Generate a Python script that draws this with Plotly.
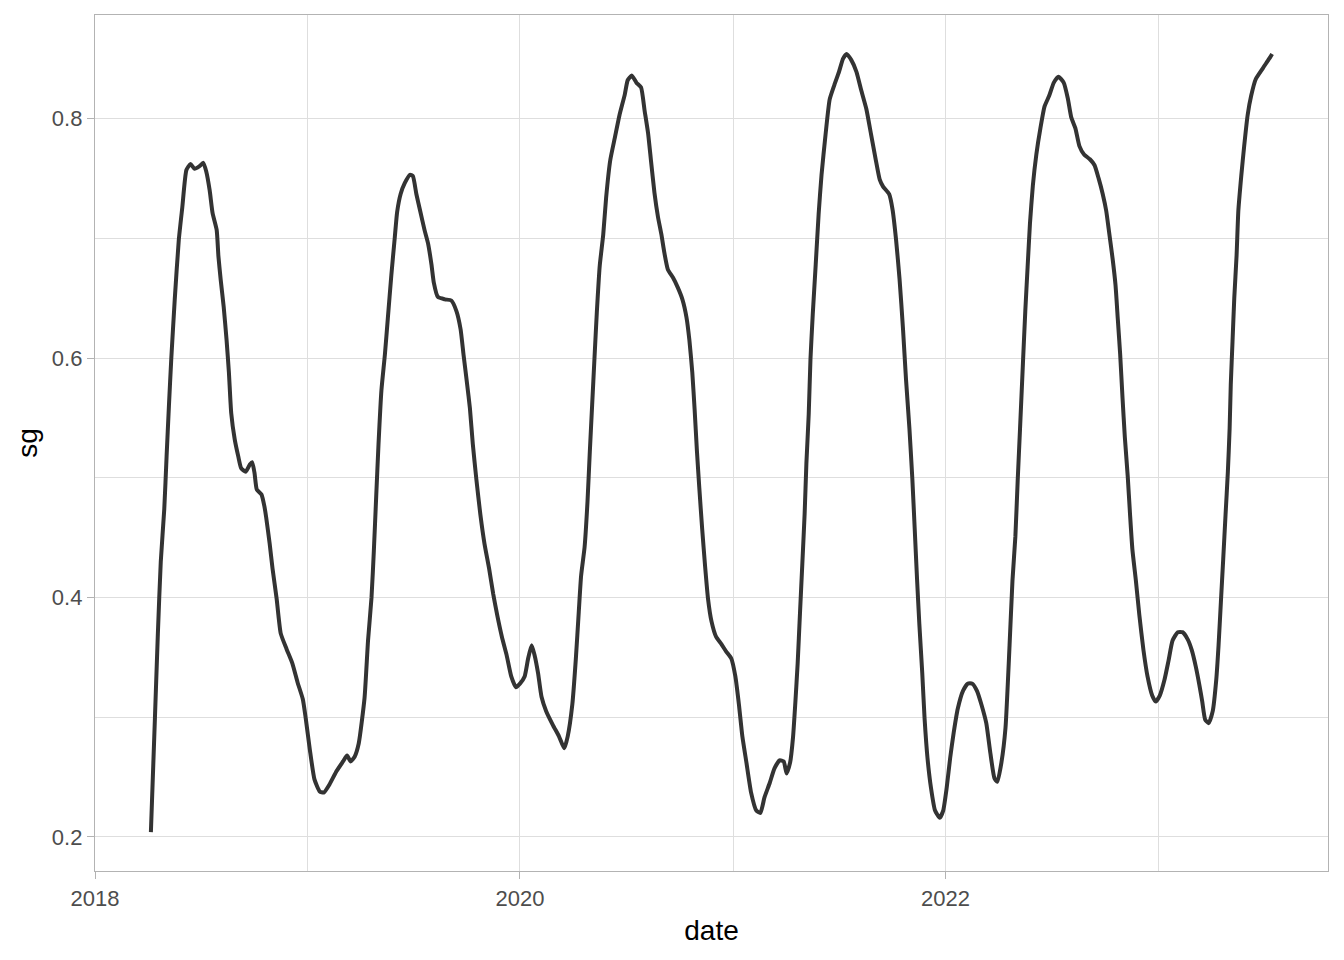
import plotly.graph_objects as go

dates = [
    "2018-04-07", "2018-04-14", "2018-04-19", "2018-04-24", "2018-04-30", "2018-05-04", "2018-05-08",
    "2018-05-12", "2018-05-18", "2018-05-25", "2018-05-31", "2018-06-07", "2018-06-14", "2018-06-21",
    "2018-06-29", "2018-07-06", "2018-07-11", "2018-07-17", "2018-07-22", "2018-07-29", "2018-08-01",
    "2018-08-05", "2018-08-10", "2018-08-15", "2018-08-19", "2018-08-23", "2018-08-29", "2018-09-04",
    "2018-09-09", "2018-09-17", "2018-09-24", "2018-09-28", "2018-10-02", "2018-10-06", "2018-10-14",
    "2018-10-19", "2018-10-22", "2018-10-28", "2018-11-02", "2018-11-09", "2018-11-16", "2018-11-26",
    "2018-12-06", "2018-12-15", "2018-12-24", "2018-12-29", "2019-01-05", "2019-01-13", "2019-01-22",
    "2019-01-29", "2019-02-08", "2019-02-20", "2019-03-03", "2019-03-10", "2019-03-16", "2019-03-23",
    "2019-03-30", "2019-04-09", "2019-04-15", "2019-04-21", "2019-04-25", "2019-04-29", "2019-05-03",
    "2019-05-08", "2019-05-14", "2019-05-19", "2019-05-25", "2019-05-31", "2019-06-04", "2019-06-10",
    "2019-06-17", "2019-06-26", "2019-07-01", "2019-07-07", "2019-07-14", "2019-07-21", "2019-07-27",
    "2019-08-02", "2019-08-06", "2019-08-13", "2019-08-25", "2019-09-05", "2019-09-14", "2019-09-21",
    "2019-09-26", "2019-10-02", "2019-10-07", "2019-10-12", "2019-10-18", "2019-10-25", "2019-11-01",
    "2019-11-09", "2019-11-16", "2019-11-23", "2019-12-01", "2019-12-09", "2019-12-17", "2019-12-25",
    "2020-01-01", "2020-01-09", "2020-01-15", "2020-01-21", "2020-01-26", "2020-02-01", "2020-02-07",
    "2020-02-15", "2020-02-27", "2020-03-08", "2020-03-17", "2020-03-23", "2020-03-31", "2020-04-06",
    "2020-04-11", "2020-04-15", "2020-04-21", "2020-04-26", "2020-04-30", "2020-05-04", "2020-05-08",
    "2020-05-12", "2020-05-17", "2020-05-23", "2020-05-28", "2020-06-04", "2020-06-12", "2020-06-20",
    "2020-06-29", "2020-07-04", "2020-07-11", "2020-07-19", "2020-07-27", "2020-08-02", "2020-08-08",
    "2020-08-13", "2020-08-19", "2020-08-25", "2020-08-31", "2020-09-05", "2020-09-11", "2020-09-20",
    "2020-09-28", "2020-10-06", "2020-10-13", "2020-10-18", "2020-10-23", "2020-10-27", "2020-10-31",
    "2020-11-04", "2020-11-09", "2020-11-14", "2020-11-19", "2020-11-25", "2020-12-03", "2020-12-12",
    "2020-12-20", "2020-12-29", "2021-01-05", "2021-01-11", "2021-01-17", "2021-01-24", "2021-02-01",
    "2021-02-10", "2021-02-17", "2021-02-24", "2021-03-05", "2021-03-13", "2021-03-22", "2021-03-29",
    "2021-04-03", "2021-04-09", "2021-04-14", "2021-04-18", "2021-04-22", "2021-04-26", "2021-04-30",
    "2021-05-04", "2021-05-07", "2021-05-11", "2021-05-14", "2021-05-18", "2021-05-23", "2021-05-28",
    "2021-06-02", "2021-06-09", "2021-06-16", "2021-06-24", "2021-07-02", "2021-07-09", "2021-07-15",
    "2021-07-23", "2021-08-01", "2021-08-09", "2021-08-18", "2021-08-26", "2021-09-03", "2021-09-10",
    "2021-09-16", "2021-09-26", "2021-10-02", "2021-10-08", "2021-10-14", "2021-10-20", "2021-10-25",
    "2021-10-31", "2021-11-05", "2021-11-09", "2021-11-13", "2021-11-17", "2021-11-22", "2021-11-26",
    "2021-12-01", "2021-12-07", "2021-12-14", "2021-12-22", "2021-12-28", "2022-01-03", "2022-01-09",
    "2022-01-15", "2022-01-22", "2022-01-31", "2022-02-08", "2022-02-16", "2022-02-24", "2022-03-04",
    "2022-03-12", "2022-03-19", "2022-03-26", "2022-03-31", "2022-04-07", "2022-04-14", "2022-04-21",
    "2022-04-26", "2022-05-01", "2022-05-05", "2022-05-09", "2022-05-14", "2022-05-18", "2022-05-22",
    "2022-05-26", "2022-05-31", "2022-06-06", "2022-06-13", "2022-06-20", "2022-06-28", "2022-07-06",
    "2022-07-14", "2022-07-23", "2022-07-30", "2022-08-05", "2022-08-12", "2022-08-19", "2022-08-27",
    "2022-09-06", "2022-09-14", "2022-09-21", "2022-09-28", "2022-10-04", "2022-10-09", "2022-10-15",
    "2022-10-20", "2022-10-24", "2022-10-28", "2022-11-01", "2022-11-05", "2022-11-10", "2022-11-14",
    "2022-11-18", "2022-11-24", "2022-11-30", "2022-12-07", "2022-12-14", "2022-12-22", "2022-12-28",
    "2023-01-04", "2023-01-12", "2023-01-19", "2023-01-26", "2023-02-04", "2023-02-12", "2023-02-21",
    "2023-02-28", "2023-03-07", "2023-03-13", "2023-03-18", "2023-03-23", "2023-03-29", "2023-04-05",
    "2023-04-11", "2023-04-15", "2023-04-19", "2023-04-23", "2023-04-27", "2023-05-01", "2023-05-04",
    "2023-05-06", "2023-05-09", "2023-05-12", "2023-05-16", "2023-05-19", "2023-05-24", "2023-05-29",
    "2023-06-04", "2023-06-10", "2023-06-18", "2023-06-30", "2023-07-11", "2023-07-16",
]

sg = [
    0.204, 0.300, 0.370, 0.430, 0.474, 0.518, 0.560,
    0.599, 0.649, 0.699, 0.726, 0.757, 0.762, 0.758,
    0.760, 0.763, 0.756, 0.740, 0.721, 0.707, 0.685,
    0.665, 0.643, 0.615, 0.588, 0.554, 0.532, 0.518,
    0.508, 0.505, 0.511, 0.513, 0.504, 0.490, 0.486,
    0.476, 0.467, 0.445, 0.424, 0.399, 0.370, 0.357,
    0.345, 0.329, 0.315, 0.299, 0.273, 0.248, 0.238,
    0.237, 0.244, 0.255, 0.263, 0.268, 0.263, 0.267,
    0.278, 0.316, 0.364, 0.400, 0.439, 0.484, 0.528,
    0.573, 0.603, 0.633, 0.669, 0.701, 0.722, 0.737,
    0.746, 0.753, 0.752, 0.737, 0.722, 0.707, 0.696,
    0.678, 0.663, 0.651, 0.649, 0.648, 0.639, 0.624,
    0.603, 0.579, 0.558, 0.528, 0.499, 0.469, 0.445,
    0.424, 0.403, 0.385, 0.367, 0.352, 0.334, 0.325,
    0.328, 0.334, 0.349, 0.360, 0.352, 0.337, 0.317,
    0.305, 0.293, 0.284, 0.274, 0.284, 0.311, 0.349,
    0.388, 0.418, 0.442, 0.480, 0.522, 0.561, 0.600,
    0.638, 0.677, 0.703, 0.734, 0.765, 0.784, 0.803,
    0.820, 0.832, 0.836, 0.830, 0.826, 0.807, 0.788,
    0.765, 0.738, 0.718, 0.703, 0.688, 0.674, 0.667,
    0.659, 0.649, 0.634, 0.615, 0.588, 0.557, 0.522,
    0.492, 0.457, 0.426, 0.399, 0.380, 0.367, 0.361,
    0.355, 0.349, 0.334, 0.311, 0.284, 0.262, 0.237,
    0.222, 0.220, 0.233, 0.245, 0.257, 0.264, 0.263,
    0.253, 0.262, 0.283, 0.312, 0.345, 0.387, 0.428,
    0.470, 0.512, 0.553, 0.599, 0.637, 0.678, 0.720,
    0.753, 0.787, 0.816, 0.828, 0.839, 0.850, 0.854,
    0.849, 0.839, 0.824, 0.808, 0.787, 0.766, 0.749,
    0.743, 0.737, 0.724, 0.699, 0.666, 0.624, 0.583,
    0.541, 0.499, 0.458, 0.416, 0.378, 0.337, 0.299,
    0.266, 0.241, 0.222, 0.216, 0.222, 0.241, 0.266,
    0.287, 0.307, 0.322, 0.328, 0.328, 0.322, 0.310,
    0.295, 0.270, 0.249, 0.246, 0.262, 0.291, 0.360,
    0.414, 0.451, 0.498, 0.541, 0.596, 0.639, 0.676,
    0.712, 0.744, 0.770, 0.792, 0.810, 0.819, 0.830,
    0.835, 0.830, 0.817, 0.801, 0.792, 0.777, 0.770,
    0.766, 0.761, 0.750, 0.737, 0.723, 0.705, 0.683,
    0.661, 0.632, 0.603, 0.567, 0.534, 0.501, 0.469,
    0.440, 0.414, 0.385, 0.356, 0.334, 0.318, 0.313,
    0.318, 0.331, 0.347, 0.364, 0.371, 0.371, 0.365,
    0.356, 0.342, 0.327, 0.313, 0.298, 0.295, 0.305,
    0.331, 0.360, 0.396, 0.432, 0.469, 0.505, 0.541,
    0.578, 0.614, 0.650, 0.686, 0.723, 0.752, 0.777,
    0.803, 0.819, 0.833, 0.842, 0.850, 0.854,
]

x_range = ["2018-01-01", "2023-10-20"]
y_range = [0.1715, 0.8865]
y_ticks = [0.2, 0.4, 0.6, 0.8]

FONT = "Liberation Sans, Arial, sans-serif"
GRID = "#dedede"
BORDER = "#b3b3b3"

fig = go.Figure()
fig.add_trace(go.Scatter(
    x=dates, y=sg, mode="lines",
    line=dict(color="#333333", width=4, shape="spline", smoothing=0.5),
    showlegend=False,
))

# page body has an 8px default margin; compensate so the panel lands where the reference has it
fig.update_layout(
    width=1336, height=952,
    margin=dict(l=87, r=16, t=7, b=89, autoexpand=False),
    paper_bgcolor="white", plot_bgcolor="white",
    font=dict(family=FONT, color="#4d4d4d"),
)

fig.update_xaxes(
    type="date", range=x_range,
    tick0="2018-01-01", dtick="M24", tickformat="%Y",
    ticks="outside", ticklen=7, tickcolor=BORDER, tickwidth=1.1,
    tickfont=dict(size=22, color="#4d4d4d", family=FONT),
    showgrid=True, gridcolor=GRID, gridwidth=1.1,
    minor=dict(dtick="M12", tick0="2019-01-01", showgrid=True, gridcolor=GRID, gridwidth=0.6),
    showline=True, linecolor=BORDER, linewidth=1.4, mirror=True,
    zeroline=False,
    title=dict(text="date", font=dict(size=28, color="black", family=FONT), standoff=10),
)
fig.update_yaxes(
    range=y_range, tickvals=y_ticks, ticktext=[f"{v:.1f}" for v in y_ticks],
    ticks="outside", ticklen=7, tickcolor=BORDER, tickwidth=1.1,
    tickfont=dict(size=22, color="#4d4d4d", family=FONT),
    showgrid=True, gridcolor=GRID, gridwidth=1.1,
    minor=dict(tickvals=[0.3, 0.5, 0.7], showgrid=True, gridcolor=GRID, gridwidth=0.6),
    showline=True, linecolor=BORDER, linewidth=1.4, mirror=True,
    zeroline=False,
    title=dict(text="sg", font=dict(size=28, color="black", family=FONT), standoff=6),
)

fig.write_html("out.html")
